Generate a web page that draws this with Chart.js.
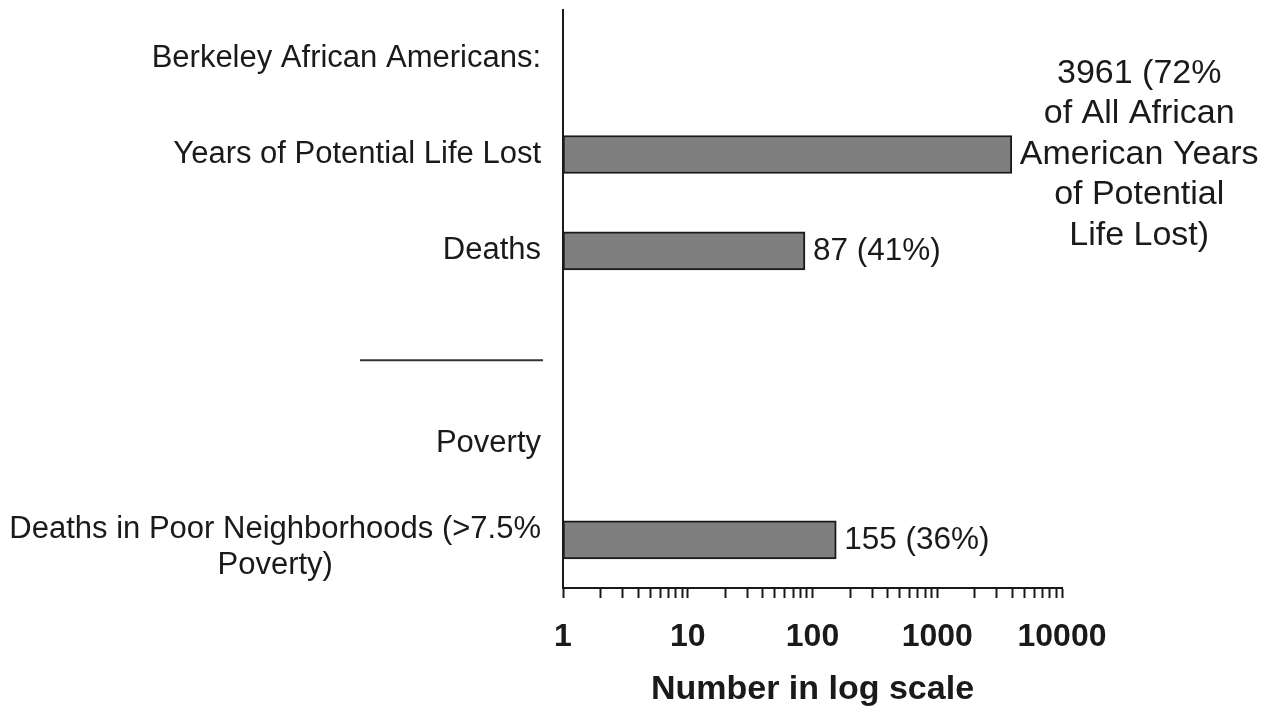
<!DOCTYPE html>
<html>
<head>
<meta charset="utf-8">
<title>Berkeley African Americans - log scale</title>
<script src="https://cdn.jsdelivr.net/npm/chart.js@4.4.1/dist/chart.umd.min.js"></script>
<style>
  html, body { margin: 0; padding: 0; background: #fff; }
  canvas { display: block; }
</style>
</head>
<body>
<canvas id="lifeLostChart" width="1268" height="712"></canvas>
<script>
// categories top to bottom, '' is the gap that holds the separator rule
const categories = [
    'Berkeley African Americans:',
    'Years of Potential Life Lost',
    'Deaths',
    '',
    'Poverty',
    ['Deaths in Poor Neighborhoods (>7.5%', 'Poverty)']
];
const counts = [null, 3961, 87, null, null, 155];
const countLabels = [
    null,
    ['3961 (72%', 'of All African', 'American Years', 'of Potential', 'Life Lost)'],
    ['87 (41%)'],
    null,
    null,
    ['155 (36%)']
];
const tickLabels = [1, 10, 100, 1000, 10000];
const axisTitle = 'Number in log scale';

const FONT = "'Liberation Sans', Arial, sans-serif";
const INK = '#1a1a1a';

// minor tick marks 1..9 inside every decade
const tickMarks = [];
tickLabels.forEach((v, i) => {
    if (i === tickLabels.length - 1) { tickMarks.push(v); return; }
    for (let m = 1; m < 10; m++) tickMarks.push(v * m);
});

const annotations = {
    id: 'annotations',
    afterDraw(chart) {
        const ctx = chart.ctx;
        const yScale = chart.scales.y;
        const area = chart.chartArea;
        ctx.save();
        ctx.fillStyle = INK;
        ctx.textBaseline = 'middle';

        // category labels on the left
        ctx.font = '31px ' + FONT;
        ctx.textAlign = 'center';
        const right = area.left - 22;
        categories.forEach((cat, i) => {
            if (!cat) return;
            const lines = Array.isArray(cat) ? cat : [cat];
            const widest = Math.max(...lines.map(l => ctx.measureText(l).width));
            const y0 = yScale.getPixelForValue(i) + (lines.length > 1 ? 8 : 0);
            const lh = 36;
            lines.forEach((line, k) => {
                ctx.fillText(line, right - widest / 2, y0 + (k - (lines.length - 1) / 2) * lh);
            });
        });

        // separator rule in the empty slot
        const sepY = yScale.getPixelForValue(3) + 13;
        ctx.strokeStyle = '#333';
        ctx.lineWidth = 2;
        ctx.beginPath();
        ctx.moveTo(area.left - 203, sepY);
        ctx.lineTo(area.left - 20, sepY);
        ctx.stroke();

        // value labels next to bars
        const meta = chart.getDatasetMeta(0);
        meta.data.forEach((bar, i) => {
            const lines = countLabels[i];
            if (!lines || counts[i] == null) return;
            ctx.font = (lines.length > 1 ? 34 : 31.5) + 'px ' + FONT;
            const widest = Math.max(...lines.map(l => ctx.measureText(l).width));
            const cx = bar.x + 8 + widest / 2;
            const lh = 40.5;
            lines.forEach((line, k) => {
                ctx.fillText(line, cx, bar.y + (k - (lines.length - 1) / 2) * lh);
            });
        });
        ctx.restore();
    }
};

const ctx = document.getElementById('lifeLostChart').getContext('2d');

new Chart(ctx, {
    type: 'bar',
    data: {
        labels: categories,
        datasets: [{
            data: counts,
            backgroundColor: '#7f7f7f',
            borderColor: '#1a1a1a',
            borderWidth: 2,
            borderSkipped: false,
            barThickness: 38
        }]
    },
    options: {
        indexAxis: 'y',
        responsive: false,
        animation: false,
        layout: { padding: { top: 10, right: 206, bottom: 0, left: 0 } },
        plugins: {
            legend: { display: false },
            tooltip: { enabled: false }
        },
        scales: {
            x: {
                type: 'logarithmic',
                min: 1,
                max: 10000,
                afterBuildTicks(scale) {
                    scale.ticks = tickMarks.map(v => ({ value: v }));
                },
                afterFit(scale) { scale.height = 124; },
                grid: {
                    display: true,
                    drawOnChartArea: false,
                    drawTicks: true,
                    tickLength: 10,
                    tickWidth: 2,
                    tickColor: INK
                },
                border: { display: true, color: INK, width: 2 },
                ticks: {
                    autoSkip: false,
                    maxRotation: 0,
                    padding: 20,
                    color: INK,
                    font: { family: FONT, size: 32, weight: 'bold' },
                    callback: v => tickLabels.includes(v) ? String(v) : ''
                },
                title: {
                    display: true,
                    text: axisTitle,
                    color: INK,
                    font: { family: FONT, size: 34, weight: 'bold' },
                    padding: { top: 0, bottom: 2 }
                }
            },
            y: {
                afterFit(scale) { scale.width = 563; },
                grid: { display: true, drawOnChartArea: false, drawTicks: false },
                border: { display: true, color: INK, width: 2 },
                ticks: { display: false }
            }
        }
    },
    plugins: [annotations]
});
</script>
</body>
</html>
